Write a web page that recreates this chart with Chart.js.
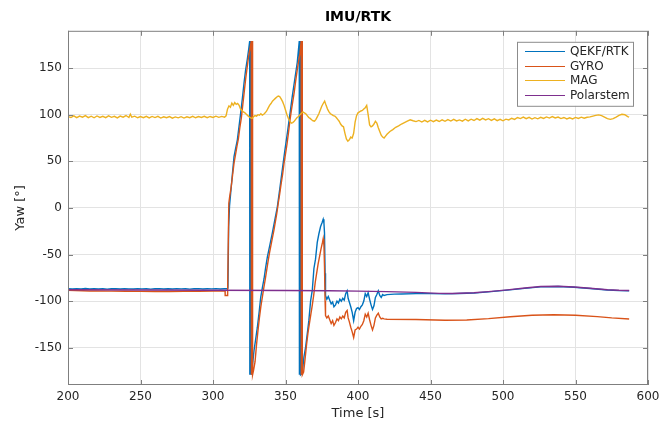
<!DOCTYPE html>
<html>
<head>
<meta charset="utf-8">
<title>IMU/RTK</title>
<script src="https://cdn.jsdelivr.net/npm/chart.js@4.4.1/dist/chart.umd.min.js"></script>
<style>
  html, body { margin: 0; padding: 0; background: #fff; }
</style>
</head>
<body>
<canvas id="yawChart" width="665" height="426"></canvas>
<script>
// --- data (time in s, yaw in deg) ---
const qekfT = [200, 203, 206, 209, 212, 215, 218, 221, 224, 227, 230, 233, 236, 239, 242, 245, 248, 251, 254, 257,
    260, 263, 266, 269, 272, 275, 278, 281, 284, 287, 290, 293, 296, 299, 302, 305, 308, 309.6,
    310.3, 310.8, 311.4, 312.2, 313.3, 314.5, 315.5, 316.8, 318, 319.1, 320.3, 321.4, 322.5, 323.7, 324.6, 325.3,
    325.4, 326.2, 326.3, 327.0,
    328.3, 329.5, 330.6, 331.8, 332.9, 334, 335.2, 336.3, 337.5, 339.2, 340.9, 342.6, 344.4, 346.1, 347.8, 349.5,
    351.3, 353, 354.7, 356.4, 358.1, 359.5,
    359.6, 360.3, 360.4,
    361.6, 362.7, 363.9, 365, 366.1, 367.3, 368.5, 369.6, 370.7, 371.9, 373, 374.2, 375.2, 376, 376.5, 376.9, 377.3, 377.6,
    378.5, 379.5, 380.5, 381.5, 382.5, 383.4, 384.5, 385.5, 386.5, 387.5, 388.5, 389.5, 390.5, 391.5, 392.5,
    393.2, 394, 395, 396, 397, 398, 399, 400, 401, 402, 403, 404, 405, 406, 407, 408, 409, 410, 411, 412,
    413, 414, 415, 416, 417, 418,
    420, 425, 430, 440, 450, 460, 470, 480, 490, 503, 515, 526, 538, 549, 560, 572, 580, 587];
const qekfV = [-86.6, -87.0, -86.7, -86.9, -86.5, -87.0, -86.7, -86.9, -86.6, -87.1, -86.8, -86.6, -87.0, -86.6, -86.9, -87.0, -86.6, -86.9, -86.7, -87.1,
    -86.8, -86.6, -87.0, -86.7, -87.0, -86.6, -86.9, -86.7, -87.1, -86.8, -86.6, -87.0, -86.7, -86.9, -86.6, -87.0, -86.8, -86.8,
    -86.0, -20, 2, 16, 35, 55, 63, 73, 88, 102, 118, 134, 148, 160, 170, 179,
    -179, 179, -179, -172,
    -153, -140, -128, -112, -96, -86, -76, -64, -52.5, -40, -27, -13, 1.4, 21, 41, 61,
    80.6, 100, 120, 138, 156, 179,
    -179, 179, -179,
    -177, -160, -149, -135, -121, -100, -88, -65, -55, -37, -28, -20, -16, -12.2, -16, -27, -70, -94,
    -98, -95, -99, -103, -101, -106, -104, -100, -102, -98, -100, -97, -99, -92, -89,
    -97, -101, -106, -112, -121, -112, -108, -107, -109, -106, -104, -100, -92, -95, -91, -98, -104, -109, -105, -96,
    -93, -89, -94, -96, -93, -94,
    -93, -92.5, -92.3, -92, -92, -92.2, -91.9, -91.3, -90.1, -88.2, -86.3, -84.7, -84.4, -85.1, -86.5, -88.1, -88.7, -88.9];

const gyroT = [200, 205, 210, 215, 220, 230, 240, 250, 260, 270, 280, 290, 300, 305, 308.3, 308.4, 309.9, 310.1, 310.9,
    311.5, 312.5, 313.5, 314.5, 315.5, 316.5, 317.5, 318.5, 319.5, 320.5, 321.5, 322.5, 323.5, 324.5, 325.5, 326.4,
    326.5, 327.2, 327.3, 328,
    329, 330, 331, 332, 333, 334, 335, 336, 337, 338, 339, 340, 341, 342, 343, 344, 345, 346, 347, 348, 349, 350,
    351, 352, 353, 354, 355, 356, 357, 358, 359, 360, 360.8,
    360.9, 361.5, 361.6,
    362.5, 363.5, 364.5, 365.5, 366.5, 367.5, 368.5, 369.5, 370.5, 371.5, 372.5, 373.5, 374.5, 375.5, 376, 376.5, 376.9, 377.3, 377.6,
    378.5, 379.5, 380.5, 381.5, 382.5, 383.4, 384.5, 385.5, 386.5, 387.5, 388.5, 389.5, 390.5, 391.5, 392.5,
    393.2, 394, 395, 396, 397, 398, 399, 400, 401, 402, 403, 404, 405, 406, 407, 408, 409, 410, 411, 412,
    413, 414, 415, 416, 417, 418,
    420, 440, 460, 475, 490, 505, 520, 535, 550, 565, 575, 587];
const gyroV = [-88.3, -88.6, -88.9, -89.1, -89.0, -89.3, -89.5, -89.6, -89.7, -89.8, -89.6, -89.4, -89.3, -89.2, -89.2, -94, -94, -88, 5,
    12, 22, 35, 48, 57, 66, 74, 86, 96, 110, 124, 138, 150, 162, 171, 179,
    -179, 179, -179, -174,
    -165, -147, -132, -118, -106, -96, -86, -77, -67, -57, -48, -40, -32, -24, -15, -6, 5, 15, 26, 36, 48, 58,
    68, 80, 93, 104, 114, 124, 136, 147, 157, 166, 179,
    -179, 179, -179,
    -176, -162, -147, -134, -124, -114, -104, -93, -80, -70, -60, -52, -44, -37, -33, -40, -63, -100, -115.5,
    -118, -116, -120, -124, -121, -126, -123, -119, -121, -117, -119, -116, -118, -112, -110,
    -118, -122, -128, -133, -139, -131, -130, -128, -130, -127, -125, -121, -114, -117, -113, -120, -126, -131, -126, -118,
    -115, -113, -117, -119, -118.5, -119,
    -119.5, -119.8, -120.5, -120.2, -118.8, -116.8, -115.2, -114.6, -115.1, -116.6, -118, -119.2];

const magT = [200, 202, 204, 206, 208, 210, 212, 214, 216, 218, 220, 222, 224, 226, 228, 230, 232, 234, 236, 238,
    240, 242, 243, 244, 246, 248, 250, 252, 254, 256, 258, 260, 262, 264, 266, 268, 270, 272, 274, 276,
    278, 280, 282, 284, 286, 288, 290, 292, 294, 296, 298, 300, 302, 304, 306, 308, 309,
    310, 311, 312, 313, 314, 315, 316, 317, 318, 319, 320, 321, 322, 323, 324, 325, 326, 327, 328, 329,
    330, 331, 332, 333, 334, 335, 336, 337, 338, 339, 340, 341, 342, 343, 344, 345, 346, 347, 348, 349,
    350, 351, 352, 353, 354, 355, 356, 357, 358, 359, 360, 361, 362, 363, 364, 365, 366, 367, 368, 369,
    370, 371, 372, 373, 374, 375, 376, 377, 378, 379, 380, 381, 382, 383, 384, 385, 386, 387, 388, 389,
    390, 391, 392, 393, 394, 395, 396, 397, 398, 399, 400, 401, 402, 403, 404, 405, 406, 407, 408, 409,
    410, 411, 412, 413, 414, 415, 416, 417, 418, 419, 420, 422, 424, 426, 428, 430, 432, 434, 436, 438,
    440, 442, 444, 446, 448, 450, 452, 454, 456, 458, 460, 462, 464, 466, 468, 470, 472, 474, 476, 478,
    480, 482, 484, 486, 488, 490, 492, 494, 496, 498, 500, 502, 504, 506, 508, 510, 512, 514, 516, 518,
    520, 522, 524, 526, 528, 530, 532, 534, 536, 538, 540, 542, 544, 546, 548, 550, 552, 554, 556, 558,
    560, 562, 564, 566, 568, 570, 572, 574, 576, 578, 580, 582, 584, 586, 587];
const magV = [98.0, 97.0, 98.8, 96.8, 98.5, 97.3, 99.0, 96.9, 98.4, 96.7, 98.6, 97.1, 98.3, 96.8, 98.7, 97.2, 98.2, 96.6, 98.5, 97.4,
    99.1, 97.0, 100.5, 97.3, 98.4, 96.7, 98.0, 96.8, 98.3, 96.5, 98.1, 96.9, 98.2, 96.4, 97.8, 96.7, 98.0, 96.3, 97.6, 96.6,
    97.9, 96.4, 97.7, 96.8, 98.2, 96.7, 98.0, 97.0, 98.3, 96.8, 98.1, 97.1, 98.4, 97.2, 98.2, 97.4, 98.7,
    106, 109.5, 108, 112.5, 110, 113, 111, 112, 110, 106, 104.5, 103, 102, 100.5, 99, 97.5, 96.5, 96, 98, 99,
    98.5, 100, 99.5, 101, 99.5, 100.5, 102, 104, 107, 110, 112, 114.5, 116, 117.5, 119, 120, 119.5, 117, 114, 110,
    105, 100, 96, 93, 91, 91.5, 93, 95, 97, 98, 100, 101.5, 103, 102, 101, 99, 97, 96, 94.5, 93.5,
    93, 95, 98, 101, 105, 109, 112, 114.5, 110, 106, 103, 101, 100, 99, 98.5, 97, 95, 93, 90, 88,
    87, 80, 74, 71.5, 73, 76, 75, 80, 92, 99, 102, 103, 104, 104.5, 106, 107.5, 110, 100, 89, 87,
    88, 90, 93, 91, 86, 82, 78, 76, 75, 77, 79, 82, 84, 86.5, 88, 90, 91.5, 93, 94.5, 93.5,
    92.6, 93.8, 92.1, 94.0, 92.3, 94.1, 92.5, 94.2, 92.7, 94.5, 92.9, 94.7, 93.2, 95.0, 93.3, 94.4, 93.1, 95.1, 93.4, 95.2,
    93.8, 95.8, 94.1, 96.0, 94.4, 95.7, 93.9, 95.5, 93.6, 95.1, 93.5, 95.2, 94.4, 96.2, 95.0, 97.0, 95.8, 97.4, 95.7, 97.1,
    95.3, 96.8, 95.6, 97.2, 96.0, 97.6, 96.4, 98.0, 96.5, 97.5, 95.8, 97.0, 95.4, 96.7, 95.5, 97.1, 96.0, 97.3, 96.2, 97.2,
    97.6, 98.5, 99.2, 99.8, 99.0, 97.5, 95.8, 95.0, 95.8, 97.5, 99.3, 100.4, 100.0, 98.0, 97.5];

const polarT = [200, 250, 300, 350, 380, 400, 420, 440, 456, 465, 480, 490, 503, 515, 526, 538, 549, 560, 572, 580, 587];
const polarV = [-87.8, -88.0, -88.3, -88.6, -88.9, -89.3, -89.8, -90.6, -91.7, -91.9, -91.0, -89.8, -87.9, -86.0, -84.4, -84.1, -84.8, -86.2, -87.8, -88.4, -88.6];

const seriesNames = ["QEKF/RTK", "GYRO", "MAG", "Polarstem"];
const seriesColors = ["#0072BD", "#D95319", "#EDB120", "#7E2F8E"];
const xTicks = [200, 250, 300, 350, 400, 450, 500, 550, 600];
const yTicks = [-150, -100, -50, 0, 50, 100, 150];

const axisColor = "#7f7f7f";
const textColor = "#262626";
const fontFamily = "'DejaVu Sans', sans-serif";

function toPoints(ts, vs) {
    return ts.map((t, i) => ({ x: t, y: vs[i] }));
}

const seriesData = [
    toPoints(qekfT, qekfV),
    toPoints(gyroT, gyroV),
    toPoints(magT, magV),
    toPoints(polarT, polarV),
];

const datasets = seriesNames.map((name, i) => ({
    label: name,
    data: seriesData[i],
    borderColor: seriesColors[i],
    backgroundColor: seriesColors[i],
    borderWidth: 1.4,
    pointRadius: 0,
    tension: 0,
    fill: false,
    order: seriesNames.length - i, // later series drawn on top, like MATLAB
}));

// box, inward ticks and the legend box inside the axes
const matlabAxes = {
    id: "matlabAxes",
    afterDraw(chart) {
        const { ctx, chartArea: a, scales } = chart;
        ctx.save();
        ctx.strokeStyle = axisColor;
        ctx.lineWidth = 1;
        ctx.strokeRect(a.left + 0.5, a.top + 0.5, a.right - a.left - 1, a.bottom - a.top - 1);

        ctx.beginPath();
        scales.x.ticks.forEach((t) => {
            const px = Math.round(scales.x.getPixelForValue(t.value)) + 0.5;
            ctx.moveTo(px, a.bottom);
            ctx.lineTo(px, a.bottom - 5);
            ctx.moveTo(px, a.top);
            ctx.lineTo(px, a.top + 5);
        });
        scales.y.ticks.forEach((t) => {
            const py = Math.round(scales.y.getPixelForValue(t.value)) + 0.5;
            ctx.moveTo(a.left, py);
            ctx.lineTo(a.left + 5, py);
            ctx.moveTo(a.right, py);
            ctx.lineTo(a.right - 5, py);
        });
        ctx.stroke();

        // legend
        const bw = 116, bh = 64;
        const bx = a.right - 15 - bw;
        const by = a.top + 11;
        ctx.fillStyle = "#ffffff";
        ctx.fillRect(bx, by, bw, bh);
        ctx.strokeStyle = "#8c8c8c";
        ctx.strokeRect(bx + 0.5, by + 0.5, bw, bh);
        ctx.font = "12px " + fontFamily;
        ctx.textBaseline = "middle";
        ctx.textAlign = "left";
        chart.data.datasets.forEach((ds, i) => {
            const ry = Math.round(by + 9 + i * 14.8) + 0.5;
            ctx.strokeStyle = ds.borderColor;
            ctx.lineWidth = 1.2;
            ctx.beginPath();
            ctx.moveTo(bx + 8, ry);
            ctx.lineTo(bx + 48, ry);
            ctx.stroke();
            ctx.fillStyle = textColor;
            ctx.fillText(ds.label, bx + 53, ry);
        });
        ctx.restore();
    },
};

new Chart(document.getElementById("yawChart"), {
    type: "line",
    data: { datasets },
    plugins: [matlabAxes],
    options: {
        responsive: false,
        animation: false,
        layout: { padding: { left: 0, right: 17, top: 0, bottom: 0 } },
        scales: {
            x: {
                type: "linear",
                min: 200,
                max: 600,
                afterFit: (scale) => { scale.height = 41; },
                afterBuildTicks: (scale) => { scale.ticks = xTicks.map((v) => ({ value: v })); },
                grid: { color: "#e3e3e3", drawTicks: false },
                border: { display: false },
                ticks: {
                    color: textColor,
                    font: { family: fontFamily, size: 12 },
                    padding: 5,
                    maxRotation: 0,
                },
                title: {
                    display: true,
                    text: "Time [s]",
                    color: textColor,
                    font: { family: fontFamily, size: 13 },
                    padding: { top: 0, bottom: 5 },
                },
            },
            y: {
                min: -190,
                max: 190,
                afterFit: (scale) => { scale.width = 68; },
                afterBuildTicks: (scale) => { scale.ticks = yTicks.map((v) => ({ value: v })); },
                grid: { color: "#e3e3e3", drawTicks: false },
                border: { display: false },
                ticks: {
                    color: textColor,
                    font: { family: fontFamily, size: 12 },
                    padding: 6,
                },
                title: {
                    display: true,
                    text: "Yaw [°]",
                    color: textColor,
                    font: { family: fontFamily, size: 13 },
                    padding: { top: 13, bottom: 0 },
                },
            },
        },
        plugins: {
            legend: { display: false },
            tooltip: { enabled: false },
            title: {
                display: true,
                text: "IMU/RTK",
                fullSize: false,
                color: "#000000",
                font: { family: fontFamily, size: 14, weight: "bold" },
                padding: { top: 9, bottom: 5 },
            },
        },
    },
});
</script>
</body>
</html>
